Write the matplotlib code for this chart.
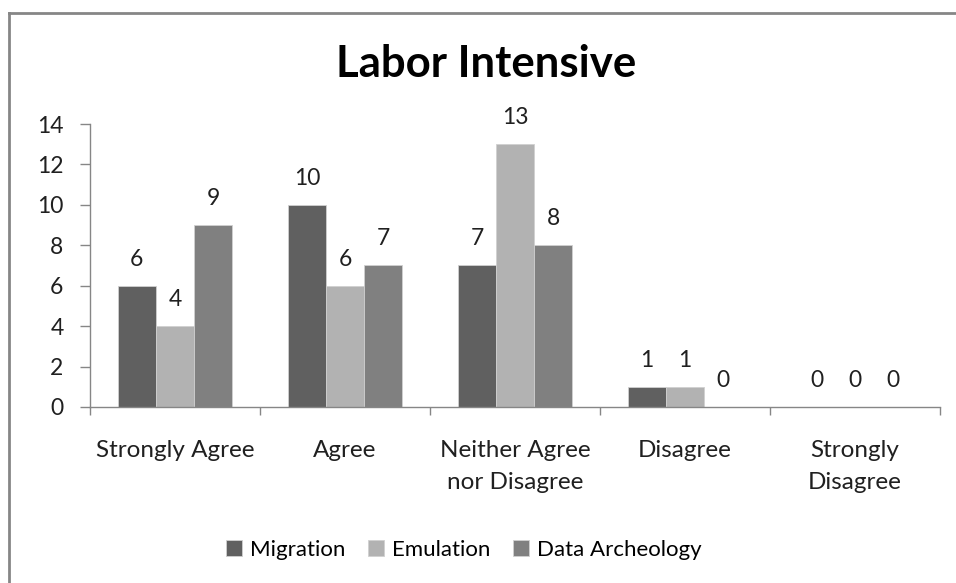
import matplotlib
matplotlib.use("Agg")
import matplotlib.pyplot as plt
from matplotlib.lines import Line2D
import numpy as np

plt.rcParams['font.family'] = ['Lato', 'DejaVu Sans']

categories = ["Strongly Agree", "Agree", "Neither Agree\nnor Disagree", "Disagree", "Strongly\nDisagree"]
series_names = ["Migration", "Emulation", "Data Archeology"]
migration = [6, 10, 7, 1, 0]
emulation = [4, 6, 13, 1, 0]
data_archeology = [9, 7, 8, 0, 0]
colores = ["#606060", "#b2b2b2", "#808080"]

fig = plt.figure(figsize=(9.56, 5.83), dpi=100)
ax = fig.add_axes([0.0941, 0.3019, 0.8892, 0.4854])

x = np.arange(len(categories))
ancho = 0.224
for i, (vals, nombre) in enumerate(zip([migration, emulation, data_archeology], series_names)):
    pos = x + (i - 1) * ancho
    ax.bar(pos, vals, width=ancho, color=colores[i], edgecolor="#d0d0d0",
           linewidth=0.6, label=nombre)
    for p, v in zip(pos, vals):
        ax.text(p, v + 0.8, str(v), ha="center", va="bottom", fontsize=16.5, color="#202020")

ax.set_xlim(-0.5, len(categories) - 0.5)
ax.set_ylim(0, 14)
ax.set_yticks(range(0, 15, 2))
ax.tick_params(axis="y", labelsize=16.5, length=7, width=1, color="#868686", pad=12, labelcolor="#202020")

# ticks en los limites de categoria, etiquetas centradas
ax.set_xticks(np.arange(-0.5, len(categories), 1))
ax.set_xticklabels([])
ax.set_xticks(x, minor=True)
ax.set_xticklabels(categories, minor=True, fontsize=17.5, color="#202020", linespacing=1.65)
ax.tick_params(axis="x", which="major", length=6, width=1, color="#868686")
ax.tick_params(axis="x", which="minor", length=0, pad=24)

for lado in ["top", "right"]:
    ax.spines[lado].set_visible(False)
for lado in ["left", "bottom"]:
    ax.spines[lado].set_color("#868686")
    ax.spines[lado].set_linewidth(1)

fig.text(0.509, 0.890, "Labor Intensive", ha="center", va="center",
         fontsize=31.5, fontweight="bold", color="black")

fig.legend(loc="center", bbox_to_anchor=(0.485, 0.057), ncol=3, frameon=False,
           fontsize=16, handlelength=0.75, handleheight=0.75, handletextpad=0.35,
           columnspacing=1.0)

# borde del grafico (solo se ve arriba e izquierda)
fig.add_artist(Line2D([8.5 / 956, 8.5 / 956], [0, 1 - 12.5 / 583], color="#868686",
                      linewidth=2, transform=fig.transFigure))
fig.add_artist(Line2D([8.5 / 956, 1], [1 - 12.5 / 583, 1 - 12.5 / 583], color="#868686",
                      linewidth=2, transform=fig.transFigure))

fig.savefig("out.png", dpi=100, facecolor="white")
